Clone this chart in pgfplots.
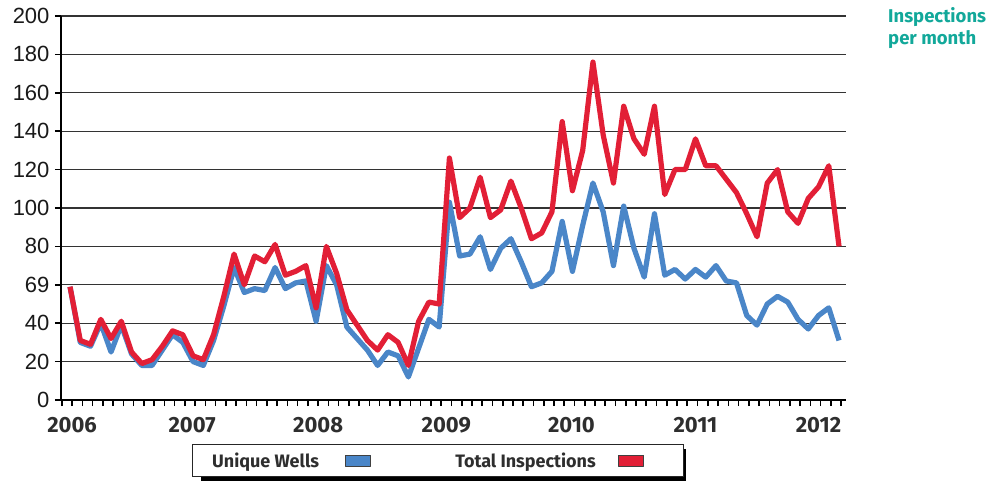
\documentclass[border=0pt]{standalone}
\usepackage{fontspec}
\setmainfont{Liberation Sans}
\newfontfamily\fira{Fira Sans}
\usepackage{pgfplots}
\usepackage{pgfplotstable}
\pgfplotsset{compat=1.18}

\definecolor{wellblue}{HTML}{4A86C8}
\definecolor{insred}{HTML}{E21F36}
\definecolor{titleteal}{HTML}{12A89A}
\definecolor{labelgray}{HTML}{2E2E2E}

% month index (0 = Jan 2006), unique wells, total inspections
\pgfplotstableread{
i  wells insp
0  59  59
1  30  31
2  28  29
3  40  42
4  25  32
5  39  41
6  24  25
7  18  19
8  18  21
9  26  28
10 34  36
11 30  34
12 20  23
13 18  21
14 31  34
15 49  54
16 69  76
17 56  60
18 58  75
19 57  72
20 69  81
21 58  65
22 61  67
23 62  70
24 41  48
25 70  80
26 60  66
27 38  47
28 32  39
29 26  31
30 18  26
31 25  34
32 23  30
33 12  18
34 27  41
35 42  51
36 38  50
37 103 126
38 75  95
39 76  100
40 85  116
41 68  95
42 79  99
43 84  114
44 72  100
45 59  84
46 61  87
47 67  98
48 93  145
49 67  109
50 91  130
51 113 176
52 98  138
53 70  113
54 101 153
55 79  136
56 64  128
57 97  153
58 65  107
59 68  120
60 63  120
61 68  136
62 64  122
63 70  122
64 62  115
65 61  108
66 44  97
67 39  85
68 50  113
69 54  120
70 51  98
71 42  92
72 37  105
73 44  111
74 48  122
75 31  80
}\monthly

\begin{document}
\begin{tikzpicture}
\path[use as bounding box] (0,0) rectangle (999pt,480pt);
% shadow of the legend box
\fill[black] (200.5pt,-2pt) rectangle (685.5pt,31pt);
\begin{axis}[
  at={(61pt,80pt)}, anchor=south west,
  scale only axis, width=785pt, height=384pt,
  xmin=-0.88, xmax=75.68, ymin=0, ymax=200,
  axis x line*=bottom, axis y line*=left,
  axis line style={line width=2pt, black},
  ytick={0,20,...,200},
  yticklabels={0,20,40,69,80,100,120,140,160,180,200},
  ymajorgrids,
  major grid style={black!80, line width=1.1pt},
  xtick={-0.8,0.2,...,75.2},
  xticklabels={},
  extra x ticks={0.2,11.9,24.2,36.7,48.9,61,73},
  extra x tick labels={2006,2007,2008,2009,2010,2011,2012},
  extra x tick style={major tick length=0pt},
  tick align=outside,
  major tick length=6pt,
  tick style={black, line width=1.6pt},
  yticklabel style={font=\fontsize{22}{22}\selectfont, text=black!90, xshift=-2pt},
  xticklabel style={font=\fira\bfseries\fontsize{22}{22}\selectfont, text=labelgray, yshift=-14pt},
  legend plot pos=right,
  legend columns=2,
  legend style={
    at={(0.48,-0.1576)}, anchor=center,
    draw=black!85, line width=1.2pt, fill=white,
    inner xsep=0pt, inner ysep=8pt,
    nodes={inner sep=0pt},
    font=\fira\bfseries\fontsize{18}{18}\selectfont, text=labelgray,
    /tikz/every even column/.style={column sep=0pt},
    /tikz/every odd column/.style={column sep=0pt},
  },
]
\addplot[wellblue, line width=5.2pt, line join=round, mark=none,
  legend image code/.code={
    \filldraw[fill=wellblue, draw=black!75, line width=1pt] (0pt,-5.5pt) rectangle (25pt,5.5pt);
    \path (107pt,0pt);
  }] table[x=i, y=wells] {\monthly};
\addlegendentry{\makebox[153pt][l]{\hspace*{20pt}Unique Wells}}
\addplot[insred, line width=5.2pt, line join=round, mark=none,
  legend image code/.code={
    \filldraw[fill=insred, draw=black!75, line width=1pt] (0pt,-5.5pt) rectangle (25pt,5.5pt);
    \path (62pt,0pt);
  }] table[x=i, y=insp] {\monthly};
\addlegendentry{\makebox[163pt][l]{Total Inspections}}
\end{axis}
\node[anchor=base west, inner sep=0pt, text=titleteal, font=\fira\bfseries\fontsize{18.5}{18.5}\selectfont] at (888pt,457.5pt) {Inspections};
\node[anchor=base west, inner sep=0pt, text=titleteal, font=\fira\bfseries\fontsize{18.5}{18.5}\selectfont] at (888pt,435pt) {per month};
\end{tikzpicture}
\end{document}
